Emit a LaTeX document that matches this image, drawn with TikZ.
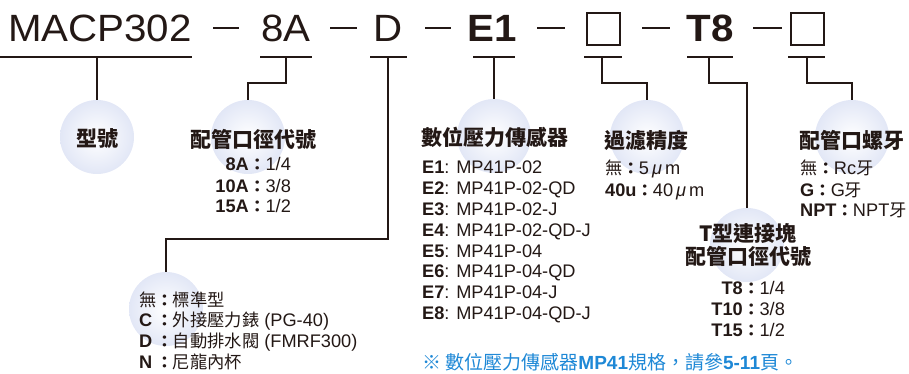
\documentclass[tikz,border=0pt]{standalone}
\usepackage{fontspec}
\setmainfont{Liberation Sans}
\newfontfamily\cjk{Noto Sans CJK TC}
\newfontfamily\cjkl[Scale=0.95]{Noto Sans CJK TC}
\newfontfamily\cjkc[Scale=0.9]{Noto Sans CJK TC}
\newfontfamily\hdr[FakeStretch=1.06]{Liberation Sans}
\definecolor{ink}{HTML}{231815}
\definecolor{circfill}{HTML}{E2E7F6}
\definecolor{notec}{HTML}{1E88D6}
\newcommand\fcolon{{\cjkc\bfseries ：}}
\tikzset{
  ln/.style={draw=ink, line width=1.2pt},
  uline/.style={draw=ink, line width=1.4pt},
  dashln/.style={draw=ink, line width=1.6pt},
  circ/.style={circle, minimum size=74pt, inner sep=0pt, shading=radial, inner color=white, outer color=circfill},
  ttl/.style={font=\fontsize{21}{25}\selectfont\cjk\bfseries, text=ink, inner sep=0pt},
  lst/.style={font=\fontsize{18.2}{21}\selectfont, text=ink, inner sep=0pt},
  hd/.style={font=\fontsize{38}{40}\selectfont\hdr, text=ink, inner sep=0pt, anchor=base},
  hdb/.style={hd, font=\fontsize{38}{40}\selectfont\hdr\bfseries},
  sqbox/.style={draw=ink, line width=1.5pt, minimum width=33pt, minimum height=32pt, inner sep=0pt},
}
\begin{document}
\begin{tikzpicture}[x=1pt,y=-1pt]
\useasboundingbox (0,0) rectangle (909,374);

% header
\node[hd] (h1) at (100,42) {MACP302};
\node[hd] (h2) at (286,42) {8A};
\node[hd] (h3) at (388,42) {D};
\node[hdb] (h4) at (492,42) {E1};
\node[sqbox] (h5) at (603.5,29) {};
\node[hdb] (h6) at (710,42) {T8};
\node[sqbox] (h7) at (807.5,29) {};

% dashes
\draw[dashln] (213,28) -- (239,28);
\draw[dashln] (330,28) -- (357,28);
\draw[dashln] (425,28) -- (451,28);
\draw[dashln] (537,28) -- (565,28);
\draw[dashln] (642,28) -- (670,28);
\draw[dashln] (753,28) -- (782,28);

% underlines
\draw[uline] (0,57) -- (192,57);
\draw[uline] (260,57) -- (312,57);
\draw[uline] (370,57) -- (407,57);
\draw[uline] (473,57) -- (515,57);
\draw[uline] (584,57) -- (622,57);
\draw[uline] (687,57) -- (733,57);
\draw[uline] (788,57) -- (825,57);
\coordinate (u1) at (97,57);
\coordinate (u2) at (286,57);
\coordinate (u3) at (388,57);
\coordinate (u4) at (494,57);
\coordinate (u5) at (602,57);
\coordinate (u6) at (709,57);
\coordinate (u7) at (807,57);

% circles
\node[circ] (c1) at (97,137) {};
\node[circ] (c2) at (248,137) {};
\node[circ] (c3) at (166,309) {};
\node[circ] (c4) at (494,136) {};
\node[circ] (c5) at (647,137) {};
\node[circ] (c6) at (747,245) {};
\node[circ] (c7) at (852,137) {};

% connectors
\draw[ln] (u1) -- (c1.north);
\draw[ln] (u2) -- ++(0,26) -| (c2.north);
\draw[ln] (u3) -- (388,239) -| (c3.north);
\draw[ln] (u4) -- (c4.north);
\draw[ln] (u5) -- ++(0,26) -| (c5.north);
\draw[ln] (u6) -- ++(0,26) -| (c6.north);
\draw[ln] (u7) -- ++(0,26) -| (c7.north);

% titles
\node[ttl] (t1) at (97,139) {型號};
\node[ttl] (t2) at (253,139) {配管口徑代號};
\node[ttl, anchor=west] (t4) at (421,137) {數位壓力傳感器};
\node[ttl, anchor=west] (t5) at (604,140) {過濾精度};
\node[ttl, anchor=west] (t7) at (799,140) {配管口螺牙};
\node[ttl] (t6a) at (748,233) {T型連接塊};
\node[ttl] (t6b) at (748,256) {配管口徑代號};

% lists
\node[lst, anchor=base east] (k2) at (249,171) {\begin{tabular}[t]{@{}r@{}}\textbf{8A}\\\textbf{10A}\\\textbf{15A}\end{tabular}};
\node[lst, anchor=base west] (v2) at (249,171) {\begin{tabular}[t]{@{}l@{}}\fcolon1/4\\\fcolon3/8\\\fcolon1/2\end{tabular}};

\node[lst, anchor=base west, font=\fontsize{18.2}{20.7}\selectfont] (l3) at (139,306) {\begin{tabular}[t]{@{}l@{}l@{}}
{\cjkl 無}&\fcolon{\cjkl 標準型}\\
\textbf{C}&\fcolon{\cjkl 外接壓力錶} (PG-40)\\
\textbf{D}&\fcolon{\cjkl 自動排水閥} (FMRF300)\\
\textbf{N}&\fcolon{\cjkl 尼龍內杯}
\end{tabular}};

\node[lst, anchor=base west, font=\fontsize{18.2}{20.8}\selectfont] (l4) at (422,174) {\begin{tabular}[t]{@{}l@{}}
\textbf{E1}: MP41P-02\\
\textbf{E2}: MP41P-02-QD\\
\textbf{E3}: MP41P-02-J\\
\textbf{E4}: MP41P-02-QD-J\\
\textbf{E5}: MP41P-04\\
\textbf{E6}: MP41P-04-QD\\
\textbf{E7}: MP41P-04-J\\
\textbf{E8}: MP41P-04-QD-J
\end{tabular}};

\node[lst, anchor=base west] (l5) at (605,175) {\begin{tabular}[t]{@{}l@{}}
{\cjkl 無}\fcolon5\,{\itshape μ}\,m\\
\textbf{40u}\fcolon40\,{\itshape μ}\,m
\end{tabular}};

\node[lst, anchor=base west] (l7) at (800,175) {\begin{tabular}[t]{@{}l@{}}
{\cjkl 無}\fcolon Rc{\cjkl 牙}\\
\textbf{G}\fcolon G{\cjkl 牙}\\
\textbf{NPT}\fcolon NPT{\cjkl 牙}
\end{tabular}};

\node[lst, anchor=base east] (k6) at (743,294) {\begin{tabular}[t]{@{}r@{}}\textbf{T8}\\\textbf{T10}\\\textbf{T15}\end{tabular}};
\node[lst, anchor=base west] (v6) at (743,294) {\begin{tabular}[t]{@{}l@{}}\fcolon1/4\\\fcolon3/8\\\fcolon1/2\end{tabular}};

% note
\node[anchor=base west, inner sep=0pt, text=notec, font=\fontsize{19}{22}\selectfont] (nt) at (422,369)
 {{\cjk ※ 數位壓力傳感器}\textbf{MP41}{\cjk 規格，請參}\textbf{5-11}{\cjk 頁。}};
\end{tikzpicture}
\end{document}
